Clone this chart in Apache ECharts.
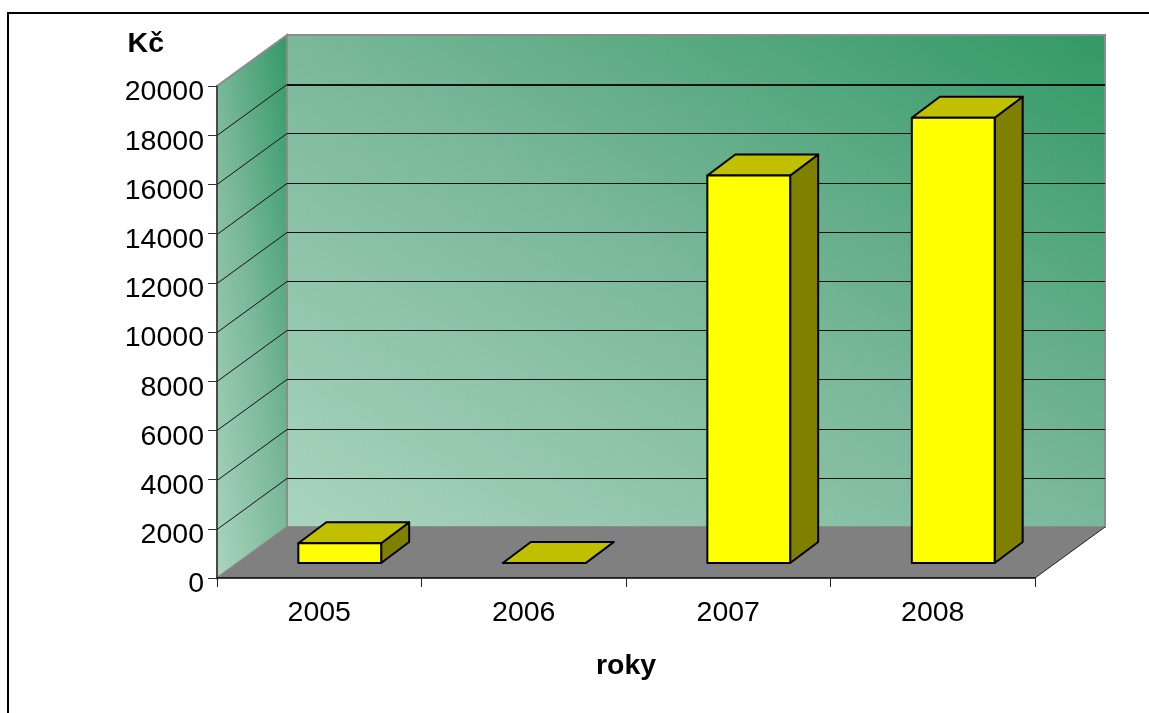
<!DOCTYPE html>
<html>
<head>
<meta charset="utf-8">
<style>html,body{margin:0;padding:0;background:#fff}#chart{width:1149px;height:713px}</style>
<script src="https://cdn.jsdelivr.net/npm/echarts@6/dist/echarts.min.js"></script>
</head>
<body>
<div id="chart"></div>
<script>
// Roční částky v Kč
const years = ['2005', '2006', '2007', '2008'];
const amounts = [800, 0, 15750, 18100];
const yMax = 20000;
const yStep = 2000;

// Pseudo-3D projection, in pixels
const WALL_DEPTH = [70, -51];
const BAR_SHIFT = [20.5, -15];
const BAR_DEPTH = [28, -21];
const BAR_WIDTH_RATIO = 0.405;

const gridLines = [];
for (let v = yStep; v <= yMax; v += yStep) gridLines.push(v);

const LG = echarts.graphic.LinearGradient;
const poly = (points, style) => ({ type: 'polygon', shape: { points }, style });
const seg = (a, b, stroke, lineWidth) => ({
  type: 'line',
  shape: { x1: a[0], y1: a[1], x2: b[0], y2: b[1] },
  style: { stroke, lineWidth, fill: null }
});
const add = (p, d) => [p[0] + d[0], p[1] + d[1]];

function renderWalls(params, api) {
  const cs = params.coordSys;
  const x0 = cs.x, x1 = cs.x + cs.width;
  const yBottom = api.coord([0, 0])[1];
  const yTop = api.coord([0, yMax])[1];
  const fl = [x0, yBottom], fr = [x1, yBottom], tl = [x0, yTop];
  const bl = add(fl, WALL_DEPTH), br = add(fr, WALL_DEPTH), tb = add(tl, WALL_DEPTH);
  const trb = [br[0], tb[1]];

  const backFill = new LG(479, 642, 913, -80, [
    { offset: 0, color: '#a9d4bd' },
    { offset: 0.5, color: '#7ab899' },
    { offset: 1, color: '#339966' }
  ], true);
  const sideFill = new LG(176, 318, 328, 294, [
    { offset: 0, color: '#a9d4bd' },
    { offset: 0.5, color: '#7ab899' },
    { offset: 1, color: '#339966' }
  ], true);

  const children = [
    poly([tb, trb, br, bl], { fill: backFill, stroke: '#8c8c8c', lineWidth: 2 }),
    poly([tl, tb, bl, fl], { fill: sideFill, stroke: '#8c8c8c', lineWidth: 2 }),
    poly([fl, fr, br, bl], { fill: '#808080', stroke: null }),
    seg(fr, br, '#222', 1)
  ];
  // Gridlines run across the side wall, then along the back wall
  gridLines.forEach(v => {
    const y = Math.round(api.coord([0, v])[1]) + 0.5;
    const a = [x0, y], b = add(a, WALL_DEPTH), c = [br[0], b[1]];
    if (v < yMax) children.push(seg(a, b, '#111', 1));
    const yBack = v < yMax ? b[1] : y - 1;
    children.push(seg([b[0], yBack], [c[0], yBack], '#111', 1));
  });
  return { type: 'group', children };
}

function renderBar(params, api) {
  const i = api.value(0), v = api.value(1);
  const center = api.coord([i, 0]);
  const half = api.size([1, 0])[0] * BAR_WIDTH_RATIO / 2;
  const yTop = api.coord([i, v])[1] + BAR_SHIFT[1];
  const yBase = center[1] + BAR_SHIFT[1];
  const xL = center[0] + BAR_SHIFT[0] - half, xR = center[0] + BAR_SHIFT[0] + half;
  const fTL = [xL, yTop], fTR = [xR, yTop], fBR = [xR, yBase], fBL = [xL, yBase];
  const line = { stroke: '#000', lineWidth: 2, lineJoin: 'round' };
  return {
    type: 'group',
    children: [
      poly([fTR, add(fTR, BAR_DEPTH), add(fBR, BAR_DEPTH), fBR], { fill: '#808000', ...line }),
      poly([fTL, add(fTL, BAR_DEPTH), add(fTR, BAR_DEPTH), fTR], { fill: '#c0c000', ...line }),
      poly([fTL, fTR, fBR, fBL], { fill: '#ffff00', ...line })
    ]
  };
}

const chart = echarts.init(document.getElementById('chart'), null, { renderer: 'canvas' });
const labelFont = { fontFamily: '"Liberation Sans", Arial, sans-serif', fontSize: 28.5, color: '#000' };
chart.setOption({
  animation: false,
  backgroundColor: '#fff',
  grid: { left: 217, right: 114, top: 86, bottom: 135, containLabel: false },
  graphic: [{
    type: 'rect', z: 100,
    shape: { x: 8, y: 13, width: 1300, height: 900 },
    style: { fill: null, stroke: '#000', lineWidth: 2 }
  }],
  xAxis: {
    type: 'category', data: years, z: 5,
    name: 'roky', nameLocation: 'middle', nameGap: 74,
    nameTextStyle: { ...labelFont, fontWeight: 'bold' },
    axisLine: { lineStyle: { color: '#000', width: 1.5 } },
    axisTick: { show: true, alignWithLabel: false, length: 9, lineStyle: { color: '#222', width: 1 } },
    axisLabel: { ...labelFont, margin: 21 },
    splitLine: { show: false }
  },
  yAxis: {
    type: 'value', min: 0, max: yMax, interval: yStep, z: 5,
    name: 'Kč', nameLocation: 'end', nameGap: 27,
    nameTextStyle: { ...labelFont, fontWeight: 'bold', align: 'right', padding: [0, 53, 0, 0] },
    axisLine: { show: true, lineStyle: { color: '#333', width: 1.5 } },
    axisTick: { show: true, length: 9, lineStyle: { color: '#333', width: 1 } },
    axisLabel: { ...labelFont, margin: 13, lineHeight: 28, padding: [7, 0, 0, 0], formatter: v => '{n|' + v + '}', rich: { n: { ...labelFont, padding: [6, 0, 0, 0] } } },
    splitLine: { show: false }
  },
  series: [
    { type: 'custom', z: 1, silent: true, renderItem: renderWalls, data: [[0, 0]] },
    { type: 'custom', z: 2, silent: true, renderItem: renderBar, data: years.map((y, i) => [i, amounts[i]]) }
  ]
});
</script>
</body>
</html>
